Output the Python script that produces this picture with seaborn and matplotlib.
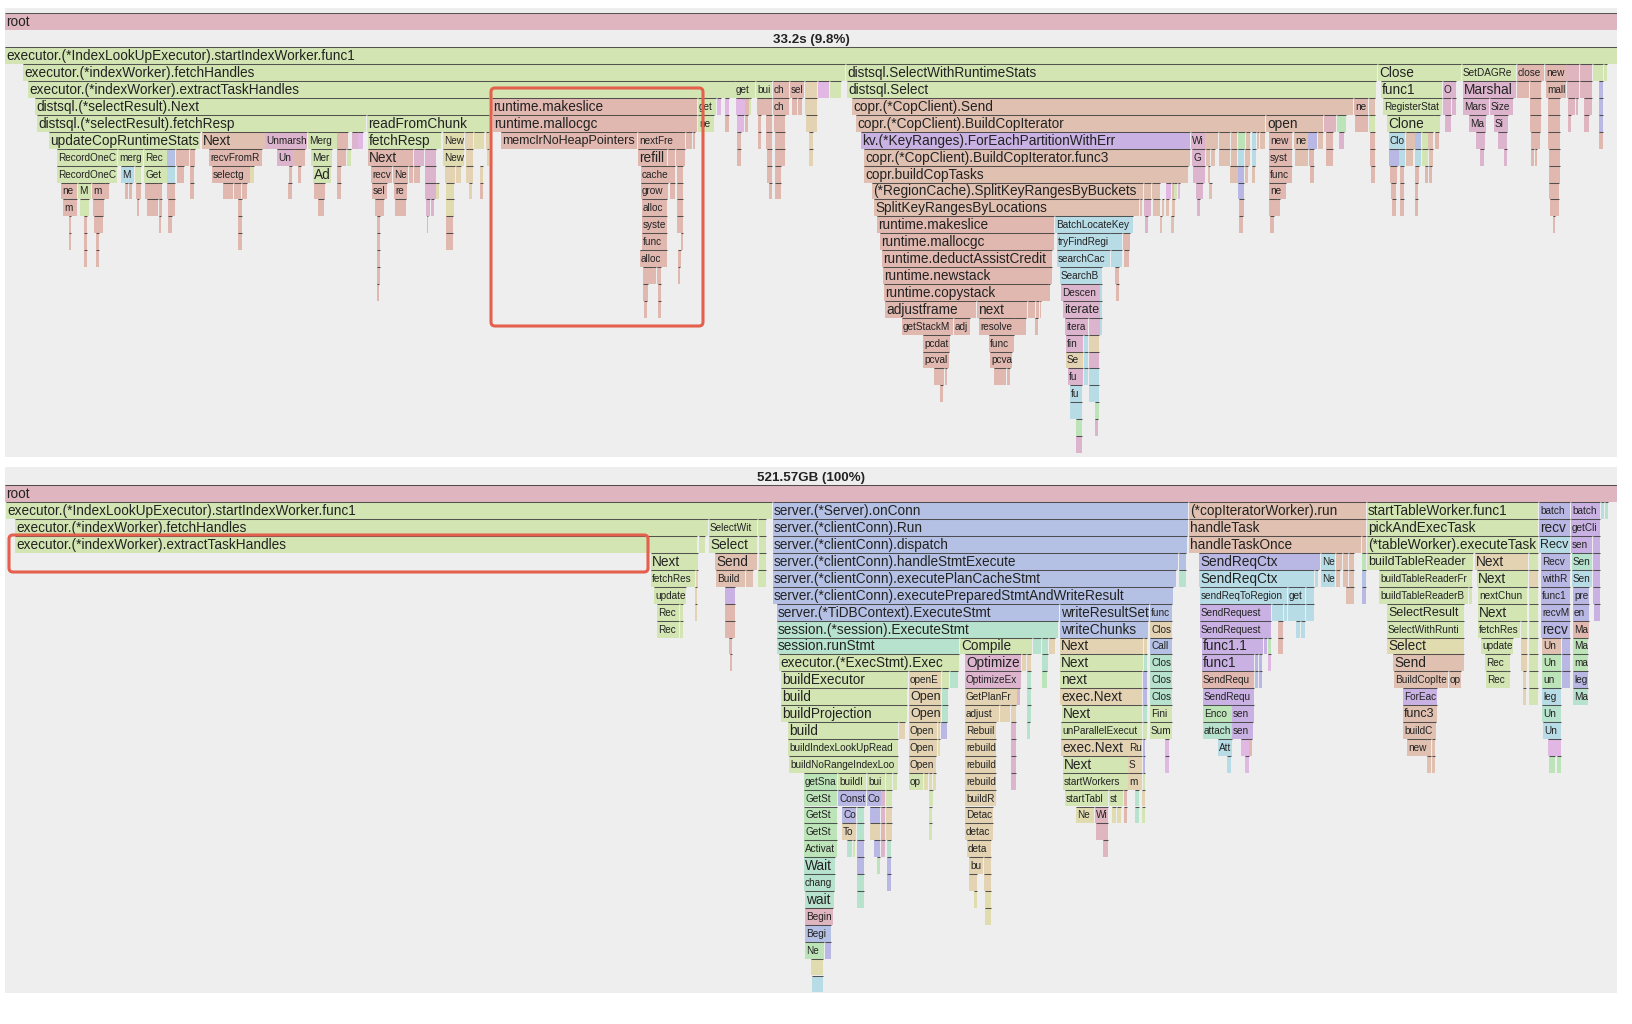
import matplotlib
matplotlib.use("Agg")
import matplotlib.pyplot as plt
import seaborn as sns
from matplotlib.patches import FancyBboxPatch
from matplotlib.transforms import IdentityTransform

# --- frames of both flame graphs: (start, end, label, package) per stack depth ---
top_title = "33.2s (9.8%)"
bottom_title = "521.57GB (100%)"

top_d0 = [(5, 1617, "executor.(*IndexLookUpExecutor).startIndexWorker.func1", "g")]
top_d1 = [(23, 845, "executor.(*indexWorker).fetchHandles", "g"), (846, 1377, "distsql.SelectWithRuntimeStats", "g"),
          (1378, 1461, "Close", "g"), (1462, 1516, "SetDAGRequ", "g"), (1517, 1544, "closec", "s"), (1545, 1566, "newc", "s"),
          (1566, 1579, "", "r"), (1580, 1592, "", "r"), (1593, 1603, "", "g"), (1604, 1607, "", "g")]
top_d2 = [(28, 735, "executor.(*indexWorker).extractTaskHandles", "g"), (735, 755, "getF", "g"), (756, 772, "buil", "g"),
          (773, 789, "cha", "s"), (790, 804, "sele", "s"), (805, 817, "", "t"), (818, 829, "", "l"), (830, 841, "", "g"),
          (847, 1376, "distsql.Select", "g"), (1381, 1442, "func1", "g"), (1443, 1456, "Ob", "m"), (1463, 1516, "Marshal", "m"),
          (1517, 1529, "", "s"), (1530, 1541, "", "s"), (1546, 1566, "mallo", "s"), (1567, 1579, "", "r"), (1580, 1592, "", "r"),
          (1599, 1603, "", "w")]
top_d3 = [(35, 489, "distsql.(*selectResult).Next", "g"), (492, 697, "runtime.makeslice", "s"), (698, 716, "getH", "g"),
          (717, 721, "", "l"), (725, 729, "", "l"), (736, 745, "", "l"), (745, 749, "", "s"), (749, 751, "", "g"),
          (757, 765, "", "s"), (765, 772, "", "s"), (773, 789, "cha", "s"), (792, 797, "", "s"), (798, 802, "", "s"),
          (805, 817, "", "t"), (852, 1353, "copr.(*CopClient).Send", "c"), (1354, 1368, "new", "s"), (1369, 1375, "", "c"),
          (1383, 1442, "RegisterStats", "g"), (1443, 1451, "", "m"), (1452, 1456, "", "m"), (1463, 1489, "Marsh", "m"),
          (1490, 1513, "Size", "m"), (1530, 1541, "", "s"), (1548, 1560, "", "s"), (1568, 1575, "", "r"), (1576, 1578, "", "r"),
          (1584, 1592, "", "r"), (1599, 1603, "", "w")]
top_d4 = [(37, 366, "distsql.(*selectResult).fetchResp", "g"), (367, 489, "readFromChunk", "g"), (493, 697, "runtime.mallocgc", "s"),
          (698, 714, "nee", "g"), (725, 729, "", "s"), (737, 744, "", "l"), (745, 748, "", "s"), (758, 761, "", "s"),
          (766, 772, "", "s"), (774, 785, "", "s"), (806, 817, "", "t"), (856, 1265, "copr.(*CopClient).BuildCopIterator", "c"),
          (1266, 1323, "open", "c"), (1324, 1336, "", "r"), (1337, 1346, "", "e"), (1355, 1368, "", "s"), (1369, 1375, "", "g"),
          (1387, 1434, "Clone", "g"), (1434, 1440, "", "g"), (1445, 1451, "", "m"), (1469, 1486, "Mar", "m"), (1494, 1508, "Siz", "m"),
          (1530, 1541, "", "s"), (1548, 1560, "", "s"), (1568, 1571, "", "r"), (1584, 1589, "", "r"), (1599, 1603, "", "w")]
top_d5 = [(49, 200, "updateCopRuntimeStats", "g"), (202, 265, "Next", "c"), (265, 307, "Unmarshal", "m"), (308, 337, "Merge", "g"),
          (337, 348, "", "s"), (352, 358, "", "m"), (358, 363, "", "l"), (368, 441, "fetchResp", "g"), (443, 464, "New", "y"),
          (465, 473, "", "t"), (474, 484, "", "y"), (486, 489, "", "t"), (501, 637, "memclrNoHeapPointers", "s"), (638, 678, "nextFree", "s"),
          (678, 685, "", "s"), (686, 692, "", "s"), (693, 695, "", "s"), (737, 741, "", "s"), (758, 761, "", "s"), (766, 772, "", "s"),
          (775, 785, "", "s"), (809, 813, "", "t"), (861, 1190, "kv.(*KeyRanges).ForEachPartitionWithErr", "p"), (1191, 1205, "Wit", "m"),
          (1205, 1218, "", "c"), (1219, 1230, "", "c"), (1231, 1237, "", "c"), (1238, 1245, "", "e"), (1246, 1250, "", "c"),
          (1252, 1256, "", "b"), (1257, 1259, "", "c"), (1260, 1265, "", "c"), (1269, 1292, "newpi", "s"), (1294, 1308, "new", "c"),
          (1308, 1317, "", "w"), (1318, 1323, "", "c"), (1326, 1333, "", "s"), (1339, 1344, "", "m"), (1370, 1375, "", "s"),
          (1389, 1405, "Clo", "b"), (1406, 1415, "", "c"), (1415, 1421, "", "v"), (1422, 1428, "", "g"), (1428, 1433, "", "c"),
          (1435, 1439, "", "s"), (1476, 1485, "", "m"), (1498, 1507, "", "m"), (1531, 1540, "", "s"), (1548, 1560, "", "s"),
          (1599, 1603, "", "s")]
top_d6 = [(57, 117, "RecordOneCop", "g"), (118, 143, "merge", "g"), (144, 167, "Recor", "g"), (167, 175, "", "v"), (176, 189, "", "s"),
          (190, 195, "", "s"), (209, 262, "recvFromRe", "s"), (277, 294, "Unr", "m"), (294, 305, "", "s"), (311, 332, "Merg", "g"),
          (337, 346, "", "s"), (347, 351, "", "g"), (368, 413, "Next", "s"), (414, 424, "", "m"), (425, 436, "", "m"), (443, 464, "New", "y"),
          (466, 473, "", "t"), (487, 489, "", "t"), (638, 667, "refill", "s"), (668, 675, "", "s"), (676, 685, "", "s"), (737, 741, "", "s"),
          (767, 772, "", "s"), (775, 785, "", "s"), (809, 813, "", "t"), (864, 1190, "copr.(*CopClient).BuildCopIterator.func3", "c"),
          (1192, 1205, "Ge", "m"), (1206, 1210, "", "c"), (1211, 1215, "", "c"), (1219, 1230, "", "c"), (1231, 1237, "", "c"),
          (1238, 1244, "", "b"), (1245, 1250, "", "c"), (1252, 1256, "", "b"), (1269, 1292, "syste", "s"), (1295, 1308, "", "c"),
          (1309, 1314, "", "s"), (1326, 1333, "", "s"), (1370, 1375, "", "s"), (1389, 1399, "", "w"), (1399, 1405, "", "b"),
          (1406, 1413, "", "c"), (1415, 1421, "", "b"), (1422, 1428, "", "g"), (1429, 1433, "", "c"), (1480, 1484, "", "m"),
          (1504, 1507, "", "m"), (1531, 1534, "", "s"), (1535, 1537, "", "s"), (1549, 1560, "", "s")]
top_d7 = [(57, 117, "RecordOneCo", "g"), (121, 134, "Me", "b"), (135, 141, "", "g"), (144, 167, "GetO", "g"), (167, 175, "", "b"),
          (177, 184, "", "s"), (190, 194, "", "s"), (212, 250, "selectgo", "s"), (250, 254, "", "y"), (289, 292, "", "s"), (298, 301, "", "s"),
          (313, 331, "Ad", "g"), (337, 341, "", "s"), (371, 392, "recv", "s"), (393, 408, "Nex", "s"), (409, 413, "", "s"), (414, 420, "", "s"),
          (425, 436, "", "m"), (445, 455, "", "t"), (456, 461, "", "t"), (466, 473, "", "t"), (480, 483, "", "t"), (641, 670, "cacheS", "s"),
          (670, 675, "", "s"), (677, 683, "", "s"), (767, 772, "", "s"), (775, 781, "", "s"), (864, 1188, "copr.buildCopTasks", "c"),
          (1193, 1205, "", "m"), (1208, 1210, "", "c"), (1230, 1238, "", "c"), (1238, 1244, "", "w"), (1245, 1248, "", "c"), (1252, 1255, "", "c"),
          (1269, 1292, "func1", "s"), (1310, 1314, "", "s"), (1371, 1375, "", "s"), (1390, 1397, "", "s"), (1400, 1404, "", "s"),
          (1415, 1419, "", "s"), (1425, 1428, "", "s"), (1429, 1432, "", "s"), (1549, 1560, "", "s")]
top_d8 = [(61, 77, "new", "s"), (78, 91, "Me", "g"), (92, 105, "ma", "s"), (105, 109, "", "s"), (125, 128, "", "s"), (129, 132, "", "s"),
          (136, 141, "", "s"), (145, 158, "", "s"), (158, 162, "", "s"), (167, 175, "", "s"), (190, 194, "", "s"), (223, 233, "", "s"),
          (234, 241, "", "s"), (242, 247, "", "s"), (288, 292, "", "s"), (314, 325, "", "s"), (337, 341, "", "s"), (372, 387, "sele", "s"),
          (394, 407, "rec", "s"), (425, 436, "", "m"), (436, 439, "", "y"), (446, 454, "", "y"), (469, 472, "", "t"), (480, 483, "", "s"),
          (641, 668, "grow", "s"), (670, 675, "", "s"), (677, 683, "", "s"), (769, 772, "", "s"), (775, 781, "", "s"),
          (872, 1143, "(*RegionCache).SplitKeyRangesByBuckets", "c"), (1144, 1151, "", "c"), (1152, 1160, "", "c"), (1166, 1171, "", "l"),
          (1172, 1174, "", "c"), (1174, 1177, "", "g"), (1178, 1180, "", "l"), (1196, 1203, "", "m"), (1209, 1212, "", "c"), (1238, 1244, "", "w"),
          (1269, 1286, "new", "s"), (1391, 1396, "", "s"), (1400, 1404, "", "s"), (1415, 1418, "", "s"), (1549, 1559, "", "s")]
top_d9 = [(63, 77, "ma", "s"), (80, 89, "", "g"), (93, 104, "", "s"), (137, 139, "", "s"), (147, 158, "", "s"), (159, 162, "", "s"),
          (168, 175, "", "s"), (238, 242, "", "s"), (318, 324, "", "s"), (375, 384, "", "s"), (395, 406, "", "s"), (426, 430, "", "m"),
          (431, 434, "", "m"), (446, 454, "", "y"), (642, 667, "alloc", "s"), (677, 683, "", "s"), (874, 1139, "SplitKeyRangesByLocations", "c"),
          (1140, 1142, "", "c"), (1144, 1151, "", "m"), (1153, 1160, "", "c"), (1162, 1164, "", "c"), (1166, 1169, "", "c"), (1172, 1175, "", "c"),
          (1197, 1200, "", "m"), (1239, 1244, "", "s"), (1269, 1277, "", "s"), (1277, 1280, "", "s"), (1392, 1396, "", "s"), (1400, 1404, "", "s"),
          (1415, 1418, "", "s"), (1550, 1559, "", "s")]
top_d10 = [(69, 71, "", "s"), (84, 87, "", "s"), (94, 103, "", "s"), (159, 161, "", "s"), (168, 172, "", "s"), (238, 242, "", "s"), (377, 380, "", "s"),
           (427, 428, "", "m"), (446, 453, "", "s"), (642, 667, "system", "s"), (677, 683, "", "s"), (877, 1054, "runtime.makeslice", "s"),
           (1055, 1133, "BatchLocateKeyRa", "b"), (1145, 1148, "", "m"), (1160, 1162, "", "c"), (1171, 1174, "", "c"), (1239, 1243, "", "s"),
           (1270, 1274, "", "s"), (1553, 1555, "", "s")]
top_d11 = [(69, 71, "", "s"), (84, 87, "", "s"), (96, 99, "", "s"), (238, 242, "", "s"), (377, 380, "", "s"), (446, 453, "", "s"), (642, 667, "func1", "s"),
           (681, 683, "", "s"), (880, 1054, "runtime.mallocgc", "s"), (1057, 1110, "tryFindRegio", "b"), (1110, 1122, "", "b"), (1123, 1130, "", "s")]
top_d12 = [(84, 87, "", "s"), (96, 99, "", "s"), (377, 380, "", "s"), (640, 667, "allocS", "s"), (678, 681, "", "s"),
           (882, 1052, "runtime.deductAssistCredit", "s"), (1057, 1110, "searchCache", "b"), (1111, 1122, "", "b"), (1124, 1129, "", "s")]
top_d13 = [(377, 380, "", "s"), (643, 653, "", "s"), (653, 656, "", "s"), (657, 661, "", "s"), (678, 680, "", "s"), (883, 1052, "runtime.newstack", "s"),
           (1060, 1102, "SearchByt", "b"), (1115, 1119, "", "s")]
top_d14 = [(377, 379, "", "s"), (643, 648, "", "s"), (658, 661, "", "s"), (884, 1048, "runtime.copystack", "s"), (1048, 1050, "", "s"),
           (1061, 1100, "Descend", "m"), (1100, 1102, "", "b"), (1116, 1119, "", "s")]
top_d15 = [(644, 647, "", "s"), (658, 661, "", "s"), (885, 976, "adjustframe", "s"), (977, 1027, "next", "s"), (1028, 1035, "", "s"), (1036, 1039, "", "s"),
           (1040, 1041, "", "s"), (1063, 1100, "iterate", "m"), (1100, 1102, "", "b")]
top_d16 = [(902, 953, "getStackMap", "s"), (954, 970, "adju", "s"), (979, 1014, "resolveI", "s"), (1014, 1026, "", "s"), (1035, 1038, "", "s"),
           (1065, 1088, "iterate", "m"), (1089, 1100, "", "m"), (1100, 1102, "", "b")]
top_d17 = [(923, 950, "pcdata", "s"), (989, 1014, "funcs", "s"), (1066, 1083, "find", "m"), (1084, 1088, "", "b"), (1089, 1099, "", "t")]
top_d18 = [(923, 949, "pcvalu", "s"), (990, 1012, "pcval", "s"), (1066, 1083, "Sea", "t"), (1084, 1088, "", "b"), (1089, 1099, "", "m")]
top_d19 = [(934, 944, "", "s"), (945, 947, "", "s"), (994, 1006, "", "s"), (1007, 1010, "", "s"), (1068, 1083, "fun", "m"), (1084, 1088, "", "b"), (1089, 1099, "", "b")]
top_d20 = [(940, 943, "", "s"), (1070, 1082, "fur", "b"), (1089, 1099, "", "b")]
top_d21 = [(1070, 1082, "", "b"), (1095, 1099, "", "e")]
top_d22 = [(1076, 1082, "", "e"), (1095, 1098, "", "m")]
top_d23 = [(1076, 1082, "", "m")]

bot_d0 = [(6, 772, "executor.(*IndexLookUpExecutor).startIndexWorker.func1", "g"), (773, 1188, "server.(*Server).onConn", "v"),
          (1189, 1366, "(*copIteratorWorker).run", "c"), (1367, 1538, "startTableWorker.func1", "g"), (1539, 1570, "batchRe", "w"),
          (1571, 1600, "batchSe", "p"), (1601, 1604, "", "b"), (1605, 1608, "", "i")]
bot_d1 = [(15, 708, "executor.(*indexWorker).fetchHandles", "g"), (709, 757, "SelectWithR", "g"), (758, 766, "", "g"), (773, 1188, "server.(*clientConn).Run", "v"),
          (1189, 1366, "handleTask", "c"), (1367, 1538, "pickAndExecTask", "g"), (1539, 1570, "recv", "w"), (1571, 1600, "getClie", "p")]
bot_d2 = [(15, 697, "executor.(*indexWorker).extractTaskHandles", "g"), (699, 705, "", "g"), (709, 757, "Select", "g"), (759, 766, "", "g"),
          (773, 1187, "server.(*clientConn).dispatch", "v"), (1189, 1361, "handleTaskOnce", "c"), (1362, 1366, "", "c"), (1367, 1538, "(*tableWorker).executeTask", "g"),
          (1539, 1570, "Recv", "b"), (1571, 1592, "send", "p"), (1593, 1600, "", "p")]
bot_d3 = [(651, 698, "Next", "g"), (715, 757, "Send", "c"), (759, 766, "", "g"), (773, 1178, "server.(*clientConn).handleStmtExecute", "v"), (1179, 1186, "", "v"),
          (1199, 1320, "SendReqCtx", "w"), (1321, 1335, "Ne", "b"), (1336, 1342, "", "c"), (1343, 1348, "", "c"), (1349, 1354, "", "c"), (1362, 1366, "", "e"),
          (1367, 1473, "buildTableReader", "g"), (1475, 1528, "Next", "t"), (1529, 1538, "", "g"), (1541, 1570, "RecvM", "w"), (1572, 1592, "Send", "i"), (1593, 1600, "", "p")]
bot_d4 = [(651, 695, "fetchResp", "g"), (696, 698, "", "t"), (716, 745, "BuildC", "c"), (746, 753, "", "c"), (758, 766, "", "g"),
          (773, 1176, "server.(*clientConn).executePlanCacheStmt", "v"), (1179, 1186, "", "i"), (1199, 1314, "SendReqCtx", "b"), (1315, 1318, "", "b"), (1321, 1335, "Ne", "b"),
          (1336, 1340, "", "c"), (1343, 1348, "", "c"), (1349, 1354, "", "c"), (1362, 1366, "", "v"), (1379, 1472, "buildTableReaderFromI", "g"), (1477, 1528, "Next", "g"),
          (1529, 1538, "", "t"), (1541, 1570, "withRe", "w"), (1572, 1592, "Send", "b"), (1593, 1600, "", "p")]
bot_d5 = [(654, 686, "updateC", "g"), (695, 697, "", "t"), (725, 735, "", "p"), (773, 1173, "server.(*clientConn).executePreparedStmtAndWriteResult", "v"),
          (1200, 1287, "sendReqToRegion", "b"), (1288, 1305, "getF", "b"), (1306, 1314, "", "b"), (1346, 1349, "", "c"), (1349, 1354, "", "c"), (1362, 1366, "", "w"),
          (1379, 1468, "buildTableReaderBase", "g"), (1469, 1472, "", "g"), (1478, 1527, "nextChunk", "g"), (1529, 1538, "", "g"), (1541, 1570, "func1", "w"),
          (1573, 1589, "prep", "w"), (1593, 1600, "", "p")]
bot_d6 = [(657, 679, "Recc", "g"), (680, 683, "", "g"), (695, 697, "", "t"), (725, 735, "", "s"), (777, 1059, "server.(*TiDBContext).ExecuteStmt", "v"),
          (1060, 1149, "writeResultSet", "v"), (1150, 1172, "func1", "v"), (1200, 1271, "SendRequest", "p"), (1272, 1283, "", "b"), (1284, 1287, "", "b"),
          (1288, 1301, "", "b"), (1301, 1305, "", "b"), (1306, 1314, "", "b"), (1387, 1464, "SelectResult", "g"), (1478, 1527, "Next", "g"), (1529, 1538, "", "g"),
          (1541, 1570, "recvMs", "w"), (1573, 1589, "enc", "w"), (1594, 1600, "", "p")]
bot_d7 = [(657, 679, "Recc", "g"), (680, 683, "", "g"), (725, 735, "", "s"), (777, 1058, "session.(*session).ExecuteStmt", "i"), (1060, 1148, "writeChunks", "v"),
          (1150, 1172, "Close", "t"), (1200, 1271, "SendRequest", "p"), (1278, 1283, "", "s"), (1296, 1300, "", "b"), (1301, 1305, "", "b"),
          (1387, 1464, "SelectWithRuntime", "g"), (1478, 1520, "fetchResp", "g"), (1521, 1527, "", "g"), (1529, 1538, "", "g"), (1541, 1570, "recv", "w"), (1573, 1589, "Mar", "s")]
bot_d8 = [(729, 732, "", "s"), (777, 959, "session.runStmt", "i"), (960, 1032, "Compile", "g"), (1033, 1041, "", "i"), (1042, 1048, "", "i"), (1049, 1055, "", "t"),
          (1060, 1143, "Next", "t"), (1144, 1147, "", "t"), (1150, 1172, "Call", "v"), (1202, 1263, "func1.1", "p"), (1264, 1267, "", "p"), (1268, 1271, "", "e"),
          (1278, 1283, "", "s"), (1387, 1464, "Select", "y"), (1481, 1513, "updateC", "g"), (1521, 1527, "", "t"), (1529, 1538, "", "g"), (1542, 1561, "Unm", "c"),
          (1562, 1570, "", "w"), (1573, 1588, "Ma", "e")]
bot_d9 = [(730, 732, "", "s"), (779, 959, "executor.(*ExecStmt).Exec", "g"), (965, 1021, "Optimize", "m"), (1022, 1026, "", "t"), (1027, 1031, "", "t"), (1042, 1048, "", "i"),
          (1060, 1143, "Next", "g"), (1144, 1147, "", "i"), (1150, 1172, "Close", "i"), (1202, 1254, "func1", "p"), (1255, 1258, "", "w"), (1259, 1262, "", "w"), (1268, 1271, "", "l"),
          (1393, 1464, "Send", "c"), (1485, 1507, "Recc", "g"), (1507, 1510, "", "g"), (1521, 1527, "", "t"), (1529, 1538, "", "g"), (1542, 1561, "Unm", "e"), (1562, 1570, "", "w"),
          (1573, 1588, "ma", "e")]
bot_d10 = [(781, 908, "buildExecutor", "g"), (909, 941, "openEx", "t"), (942, 949, "", "g"), (950, 958, "", "i"), (965, 1021, "OptimizeExec", "m"), (1027, 1031, "", "i"),
           (1042, 1047, "", "e"), (1060, 1142, "next", "g"), (1143, 1147, "", "w"), (1150, 1172, "Close", "i"), (1202, 1254, "SendReques", "s"), (1255, 1258, "", "v"), (1259, 1262, "", "w"),
           (1394, 1448, "BuildCopIter", "c"), (1449, 1461, "ope", "c"), (1486, 1507, "Recc", "g"), (1507, 1510, "", "g"), (1523, 1526, "", "t"), (1529, 1538, "", "g"),
           (1542, 1561, "unm", "e"), (1562, 1570, "", "w"), (1573, 1588, "leg", "w")]
bot_d11 = [(781, 907, "build", "g"), (909, 941, "Open", "t"), (942, 948, "", "i"), (965, 1017, "GetPlanFrom", "t"), (1017, 1020, "", "m"), (1027, 1031, "", "i"), (1060, 1142, "exec.Next", "t"),
           (1143, 1147, "", "w"), (1150, 1172, "Close", "i"), (1203, 1254, "SendReque", "p"), (1403, 1437, "ForEach", "p"), (1523, 1526, "", "t"), (1529, 1538, "", "g"),
           (1542, 1561, "lega", "b"), (1573, 1588, "Ma", "i")]
bot_d12 = [(781, 907, "buildProjection", "g"), (909, 941, "Open", "t"), (942, 948, "", "i"), (965, 999, "adjustC", "t"), (1000, 1010, "", "t"), (1011, 1016, "", "t"), (1027, 1031, "", "i"),
           (1062, 1142, "Next", "g"), (1143, 1147, "", "i"), (1150, 1172, "Finis", "g"), (1203, 1232, "Encod", "e"), (1232, 1254, "send", "p"), (1403, 1437, "func3", "c"), (1542, 1561, "Unm", "i")]
bot_d13 = [(788, 898, "build", "g"), (899, 905, "", "t"), (909, 937, "Open", "t"), (938, 940, "", "t"), (941, 947, "", "w"), (965, 996, "Rebuild", "t"), (1011, 1016, "", "m"), (1027, 1030, "", "i"),
           (1061, 1142, "unParallelExecute", "g"), (1143, 1147, "", "g"), (1150, 1172, "Sumr", "g"), (1203, 1232, "attach", "i"), (1232, 1253, "send", "p"), (1403, 1436, "buildCo", "c"), (1543, 1561, "Unm", "b")]
bot_d14 = [(788, 898, "buildIndexLookUpReader", "g"), (909, 937, "Open", "t"), (938, 940, "", "y"), (965, 996, "rebuildF", "t"), (1011, 1016, "", "m"), (1061, 1128, "exec.Next", "t"),
           (1128, 1142, "Ru", "t"), (1143, 1145, "", "w"), (1165, 1169, "", "l"), (1218, 1232, "Att", "b"), (1241, 1249, "", "l"), (1249, 1252, "", "s"), (1407, 1427, "new", "c"),
           (1427, 1431, "", "c"), (1432, 1435, "", "c"), (1548, 1561, "", "l")]
bot_d15 = [(789, 898, "buildNoRangeIndexLookUp", "g"), (909, 936, "Open", "t"), (965, 996, "rebuildF", "t"), (1011, 1016, "", "m"), (1063, 1128, "Next", "g"), (1128, 1142, "Sw", "t"),
           (1143, 1145, "", "w"), (1165, 1169, "", "l"), (1227, 1231, "", "b"), (1245, 1249, "", "l"), (1427, 1431, "", "c"), (1432, 1435, "", "c"), (1549, 1555, "", "e"), (1557, 1561, "", "e")]
bot_d16 = [(804, 837, "getSnap", "e"), (838, 866, "buildIn", "g"), (867, 885, "buik", "g"), (886, 892, "", "g"), (893, 897, "", "g"), (909, 923, "ope", "g"), (924, 928, "", "y"), (929, 932, "", "y"),
           (933, 936, "", "y"), (965, 996, "rebuildF", "t"), (1011, 1016, "", "m"), (1063, 1128, "startWorkers", "g"), (1128, 1142, "me", "t"), (1143, 1145, "", "g")]
bot_d17 = [(804, 837, "GetStmt", "e"), (838, 866, "Constr", "w"), (867, 881, "Co", "w"), (881, 885, "", "m"), (886, 892, "", "g"), (929, 933, "", "g"), (965, 996, "buildRa", "t"),
           (1065, 1108, "startTableV", "g"), (1109, 1123, "sta", "g"), (1124, 1127, "", "s"), (1135, 1139, "", "i"), (1142, 1145, "", "t")]
bot_d18 = [(804, 837, "GetStmt", "e"), (842, 856, "Co", "w"), (857, 864, "", "i"), (870, 880, "", "w"), (881, 885, "", "m"), (886, 892, "", "t"), (929, 932, "", "g"), (965, 993, "Detach", "t"),
           (1076, 1094, "New", "y"), (1095, 1108, "Wi", "r"), (1112, 1116, "", "y"), (1117, 1121, "", "y"), (1124, 1127, "", "s"), (1135, 1139, "", "i"), (1142, 1145, "", "g")]
bot_d19 = [(804, 837, "GetStmt", "e"), (842, 856, "ToF", "t"), (857, 864, "", "i"), (870, 880, "", "t"), (881, 885, "", "s"), (886, 892, "", "t"), (929, 932, "", "g"), (965, 993, "detach", "t"),
           (1096, 1108, "", "r")]
bot_d20 = [(804, 837, "Activate", "e"), (847, 852, "", "i"), (853, 855, "", "g"), (857, 864, "", "w"), (874, 880, "", "w"), (881, 885, "", "m"), (887, 891, "", "i"), (967, 991, "detac", "t"),
           (1103, 1108, "", "r")]
bot_d21 = [(804, 835, "Wait", "i"), (857, 864, "", "w"), (877, 880, "", "e"), (887, 891, "", "w"), (969, 983, "bui", "t"), (984, 991, "", "t")]
bot_d22 = [(804, 835, "change", "i"), (857, 864, "", "i"), (887, 891, "", "w"), (969, 977, "", "t"), (984, 991, "", "t")]
bot_d23 = [(805, 834, "wait", "i"), (857, 864, "", "i"), (974, 977, "", "y"), (985, 991, "", "y")]
bot_d24 = [(805, 833, "Begin", "r"), (985, 991, "", "y")]
bot_d25 = [(805, 831, "Begin", "v")]
bot_d26 = [(805, 824, "New", "e"), (825, 831, "", "w")]
bot_d27 = [(811, 823, "", "y")]
bot_d28 = [(812, 823, "", "b")]

top_rows = [top_d0, top_d1, top_d2, top_d3, top_d4, top_d5, top_d6, top_d7, top_d8, top_d9, top_d10, top_d11,
            top_d12, top_d13, top_d14, top_d15, top_d16, top_d17, top_d18, top_d19, top_d20, top_d21, top_d22, top_d23]
bot_rows = [bot_d0, bot_d1, bot_d2, bot_d3, bot_d4, bot_d5, bot_d6, bot_d7, bot_d8, bot_d9, bot_d10, bot_d11, bot_d12, bot_d13,
            bot_d14, bot_d15, bot_d16, bot_d17, bot_d18, bot_d19, bot_d20, bot_d21, bot_d22, bot_d23, bot_d24, bot_d25, bot_d26, bot_d27, bot_d28]

# --- STYLE ---
colors = {"g": "#d3e5b3", "s": "#e0b8b0", "c": "#e0c0b0", "p": "#c9b2e3", "m": "#ddb4cd", "t": "#e3d3b3", "b": "#b8dce6", "v": "#b5c1e4",
          "i": "#b7e2cd", "r": "#dfb5bf", "y": "#e1dcb0", "e": "#bde3b8", "l": "#e0b8e3", "w": "#b9b7e3"}
PITCH = 16.9
FIG_W, FIG_H = 1632, 1024

sns.set_style("white")
plt.rcParams["font.family"] = ["Liberation Sans", "DejaVu Sans"]

fig = plt.figure(figsize=(FIG_W / 100, FIG_H / 100), dpi=100)
renderer = fig.canvas.get_renderer()


def draw_frame(ax, depth, start, end, label, key):
    # single bar per call, otherwise seaborn would average the bars of a row
    sns.barplot(x=[end - start], y=[depth], orient="y", native_scale=True, left=start, width=1,
                color=colors[key], saturation=1, errorbar=None, linewidth=0, ax=ax)
    bar = ax.patches[-1]
    ax.hlines(depth - 0.5, start, end, colors="#3a3a3a", linewidth=0.75, alpha=0.85)
    if not label:
        return
    room = end - start - 1
    txt = ax.text(start + 1, depth + 0.03, label, fontsize=9.8, va="center", ha="left", color="#222222")
    # big font when the name fits, a smaller one and a cut name when not
    for size in (9.8, 9.0, 7.2):
        txt.set_fontsize(size)
        if txt.get_window_extent(renderer).width <= room:
            break
    while len(label) > 1 and txt.get_window_extent(renderer).width > room:
        label = label[:-1]
        txt.set_text(label)
    txt.set_clip_on(True)
    txt.set_clip_path(bar)


def draw_panel(px_top, px_bottom, px_rows, rows, root_depth, title, title_px):
    ax = fig.add_axes([5 / FIG_W, 1 - px_bottom / FIG_H, 1612 / FIG_W, (px_bottom - px_top) / FIG_H])
    ax.set_facecolor("#eeeeee")
    ax.set_xlim(5, 1617)
    ax.set_ylim((px_bottom - px_rows) / PITCH - 0.5, (px_top - px_rows) / PITCH - 0.5)
    draw_frame(ax, root_depth, 5, 1617, "root", "r")
    for depth, row in enumerate(rows):
        for start, end, label, key in row:
            draw_frame(ax, depth, start, end, label, key)
    ax.set_xlim(5, 1617)
    ax.set_ylim((px_bottom - px_rows) / PITCH - 0.5, (px_top - px_rows) / PITCH - 0.5)
    ax.set_xlabel("")
    ax.set_ylabel("")
    ax.set_xticks([])
    ax.set_yticks([])
    sns.despine(ax=ax, left=True, bottom=True)
    fig.text(811 / FIG_W, 1 - title_px / FIG_H, title, fontsize=9.6, fontweight="bold", ha="center", va="center", color="#222222")


draw_panel(8, 457, 47.3, top_rows, -2, top_title, 40)
draw_panel(467, 993, 502.3, bot_rows, -1, bottom_title, 477.5)

# red highlight boxes, given in pixels from the top left
for x0, y0, x1, y1 in [(491, 88, 703, 326), (9, 535, 648, 572)]:
    fig.add_artist(FancyBboxPatch((x0, FIG_H - y1), x1 - x0, y1 - y0, boxstyle="round,pad=0,rounding_size=4",
                                  fill=False, edgecolor="#e4604c", linewidth=2.2, transform=IdentityTransform()))

fig.savefig("out.png", dpi=100)
